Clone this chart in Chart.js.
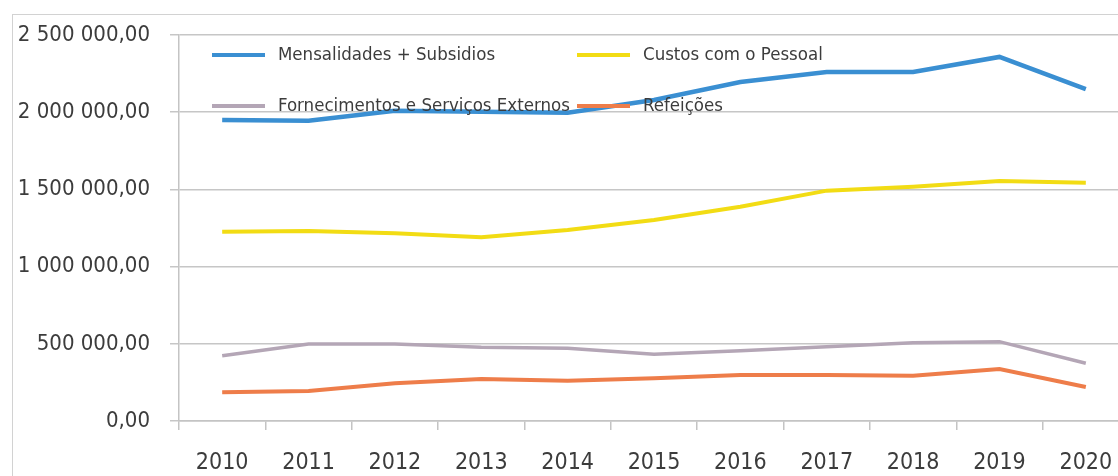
<!DOCTYPE html>
<html>
<head>
<meta charset="utf-8">
<script src="https://cdn.jsdelivr.net/npm/chart.js@4"></script>
<style>
  html, body { margin: 0; padding: 0; overflow: hidden; background: #fff; }
  #frame { position: absolute; left: 12px; top: 14px; width: 1300px; height: 600px;
           border-top: 1px solid #d2d2d2; border-left: 1px solid #d2d2d2; }
  #wrap { position: absolute; left: 0; top: 0; width: 1140px; height: 476px; }
</style>
</head>
<body>
<div id="frame"></div>
<div id="wrap"><canvas id="chart"></canvas></div>
<script>
const years = ['2010', '2011', '2012', '2013', '2014', '2015', '2016', '2017', '2018', '2019', '2020'];
const mensalidades = [1950000, 1945000, 2010000, 2003000, 1997000, 2079000, 2196000, 2260000, 2260000, 2358000, 2150000];
const custosPessoal = [1226000, 1230000, 1216000, 1190000, 1237000, 1302000, 1388000, 1492000, 1517000, 1554000, 1543000];
const fornecimentos = [423000, 499000, 499000, 477000, 471000, 432000, 455000, 481000, 507000, 514000, 374000];
const refeicoes = [186000, 194000, 244000, 272000, 261000, 277000, 298000, 298000, 293000, 337000, 220000];

const FONT = '"DejaVu Sans Condensed", "Liberation Sans", sans-serif';
const TEXT = '#3c3c3c';

function formatPt(v) {
  return String(Math.round(v)).replace(/\B(?=(\d{3})+(?!\d))/g, ' ') + ',00';
}

// legenda em duas colunas dentro da área do gráfico
const gridLegend = {
  id: 'gridLegend',
  afterDraw(chart) {
    const { ctx, chartArea } = chart;
    chart.data.datasets.forEach((ds, i) => {
      const x = chartArea.left + 33 + (i % 2) * 365;
      const y = chartArea.top + 20 + Math.floor(i / 2) * 51;
      ctx.save();
      ctx.strokeStyle = ds.borderColor;
      ctx.lineWidth = 4;
      ctx.beginPath();
      ctx.moveTo(x, y);
      ctx.lineTo(x + 53, y);
      ctx.stroke();
      ctx.fillStyle = TEXT;
      ctx.font = '18.5px ' + FONT;
      ctx.textBaseline = 'middle';
      ctx.fillText(ds.label, x + 66, y);
      ctx.restore();
    });
  }
};

const ctx = document.getElementById('chart').getContext('2d');
new Chart(ctx, {
  type: 'line',
  data: {
    labels: years,
    datasets: [
      { label: 'Mensalidades + Subsidios', data: mensalidades, borderColor: '#3a8fd2', borderWidth: 4.5 },
      { label: 'Custos com o Pessoal', data: custosPessoal, borderColor: '#f2dc14', borderWidth: 4 },
      { label: 'Fornecimentos e Serviços Externos', data: fornecimentos, borderColor: '#b4a6b6', borderWidth: 3.5 },
      { label: 'Refeições', data: refeicoes, borderColor: '#ee7d4a', borderWidth: 4 }
    ]
  },
  options: {
    responsive: true,
    maintainAspectRatio: false,
    animation: false,
    layout: { padding: { top: 35, right: 11, left: 0, bottom: 0 } },
    elements: { point: { radius: 0 }, line: { tension: 0 } },
    plugins: { legend: { display: false }, tooltip: { enabled: false } },
    scales: {
      x: {
        offset: true,
        grid: { offset: true, drawOnChartArea: false, drawTicks: true, tickLength: 9, color: '#c4c4c4', lineWidth: 1.5 },
        border: { color: '#c4c4c4', width: 1.5 },
        ticks: { color: TEXT, font: { family: FONT, size: 23 }, padding: 19, maxRotation: 0 },
        afterFit(scale) { scale.height = 55; }
      },
      y: {
        min: 0,
        max: 2500000,
        grid: { color: '#c6c6c6', lineWidth: 1.5, tickLength: 9 },
        border: { color: '#c4c4c4', width: 1.5 },
        ticks: { stepSize: 500000, color: TEXT, font: { family: FONT, size: 22 }, padding: 20, callback: v => formatPt(v) },
        afterFit(scale) { scale.width = 179; }
      }
    }
  },
  plugins: [gridLegend]
});
</script>
</body>
</html>
